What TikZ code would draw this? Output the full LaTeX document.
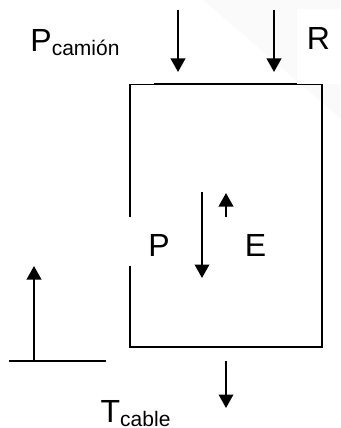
\documentclass[tikz,border=0pt]{standalone}
\usepackage{fontspec}
\setmainfont{Liberation Sans}
\usetikzlibrary{arrows.meta,positioning,calc}

\begin{document}
\begin{tikzpicture}[x=1pt,y=-1pt]
\tikzset{force/.style={line width=2pt,-{Triangle[width=14.5pt,length=13.5pt]}}}
\tikzset{lbl/.style={font=\fontsize{32}{36}\selectfont,inner sep=0pt}}
\tikzset{blank/.style={lbl,fill=white,text height=#1}}
\newcommand{\sub}[1]{{\fontsize{21}{24}\selectfont\raisebox{-4pt}{#1}}}
\useasboundingbox (0,0) rectangle (340,428);
% faint shade top right
\fill[black!2] (203,0) -- (340,0) -- (340,118) -- cycle;

% block
\draw[line width=2pt] (130,83.5) rectangle (322,347);

% loads on top
\foreach \x/\n in {178/a,274/b} {
  \coordinate (top\n) at (\x,10);
  \coordinate (tip\n) at (\x,72);
  \draw[force] (top\n) -- (tip\n);
}

% weight and buoyancy
\coordinate (pw) at (202,192);
\coordinate (pwend) at (202,278);
\coordinate (eb) at (226,267);
\coordinate (ebend) at (226,193);
\draw[force] (pw) -- (pwend);
\draw[force] (eb) -- (ebend);

% cable
\coordinate (cb) at (226,361);
\coordinate (cbend) at (226,408);
\draw[force] (cb) -- (cbend);

% reaction at the ground
\coordinate (gl) at (9,361);
\coordinate (gr) at (106,361);
\coordinate (gm) at (34,361);
\coordinate (gtip) at (34,266);
\draw[line width=1.6pt] (gl) -- (gr);
\draw[force] (gm) -- (gtip);

% labels
\node[blank=42pt,text depth=32pt,minimum width=158pt,anchor=base] (pcam) at (75,51.7) {P\sub{camión}};
\node[blank=40pt,text depth=34pt,minimum width=43pt,anchor=base] (r) at (318.5,49.5) {R};
\node[blank=39pt,text depth=10pt,minimum width=64pt,anchor=base] (p) at (159,256) {P};
\node[blank=39pt,text depth=11pt,minimum width=63pt,anchor=base] (e) at (255.5,256) {E};
\node[lbl,anchor=base west] (tcab) at (100.5,422.5) {T\sub{cable}};
\end{tikzpicture}
\end{document}
